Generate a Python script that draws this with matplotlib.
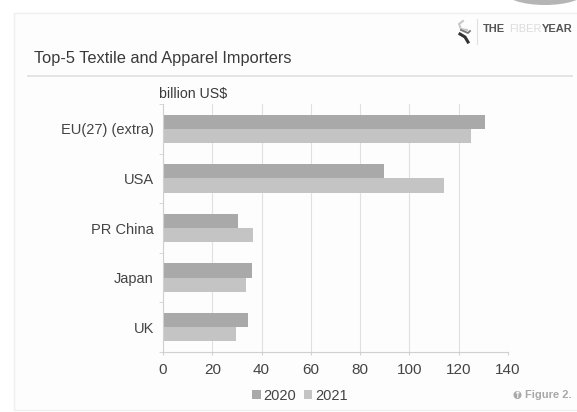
#!/usr/bin/env python3
"""Top-5 textile and apparel importers, grouped horizontal bars."""

import matplotlib
matplotlib.use("Agg")
import matplotlib.pyplot as plt
import numpy as np
from matplotlib.patches import Circle, Ellipse, Rectangle

W, H = 577, 412

countries = ["EU(27) (extra)", "USA", "PR China", "Japan", "UK"]
years = ["2020", "2021"]
values_2020 = [130.5, 89.5, 30.5, 36, 34.5]
values_2021 = [125, 114, 36.5, 33.5, 29.5]
x_ticks = [0, 20, 40, 60, 80, 100, 120, 140]

plt.rcParams["font.family"] = ["Liberation Sans", "DejaVu Sans"]

fig = plt.figure(figsize=(W / 100, H / 100), dpi=100, facecolor="white")


def fx(px):
    return px / W


def fy(py):
    return 1 - py / H


# card behind the chart
bg = fig.add_axes([0, 0, 1, 1], zorder=0)
bg.set_xlim(0, W)
bg.set_ylim(H, 0)
bg.axis("off")
bg.add_patch(Rectangle((14, 13), 570, 397, fc="#fdfdfd", ec="#efefef", lw=1))
bg.add_patch(Ellipse((545, -8), 80, 26, fc="#b5b5b5", ec="none"))
bg.plot([28, 572], [75.5, 75.5], color="#e2e2e2", lw=1.3)
bg.plot([477, 477], [19, 44], color="#e0e0e0", lw=0.8)

# rough logo mark
bg.plot([463, 459, 461, 467], [21, 24, 29, 30], color="#c8c8c8", lw=1.5)
bg.plot([460, 465, 468], [34, 37, 42], color="#333333", lw=2.2)
bg.plot([461, 468, 470], [30, 33, 31], color="#777777", lw=1.3)

ax = fig.add_axes([fx(163), fy(352), fx(508 - 163), (352 - 104) / H], zorder=1)
ax.patch.set_alpha(0)

y = np.arange(len(countries))
bar_h = 0.285
ax.barh(y - bar_h / 2, values_2020, bar_h, color="#a9a9a9", label=years[0], zorder=2)
ax.barh(y + bar_h / 2, values_2021, bar_h, color="#c4c4c4", label=years[1], zorder=2)

ax.set_xlim(0, 140)
ax.set_ylim(len(countries) - 0.5, -0.5)
ax.set_yticks(y, countries)
ax.set_yticks(np.arange(len(countries) + 1) - 0.5, minor=True)
ax.set_xticks(x_ticks)
ax.grid(axis="x", color="#e0e0e0", lw=0.8, zorder=0)
ax.set_axisbelow(True)
for side in ["top", "right"]:
    ax.spines[side].set_visible(False)
ax.spines["left"].set_color("#d0d0d0")
ax.spines["bottom"].set_color("#d0d0d0")
ax.tick_params(axis="y", which="major", length=0, pad=6.5, labelsize=10.5, labelcolor="#444444")
ax.tick_params(axis="y", which="minor", length=3, color="#d0d0d0")
ax.tick_params(axis="x", length=2, color="#d0d0d0", pad=6, labelsize=11, labelcolor="#444444")

fig.text(fx(34), fy(59), "Top-5 Textile and Apparel Importers", fontsize=11.8,
         color="#3a3a3a", va="center")
fig.text(fx(159), fy(94), "billion US$", fontsize=10.2, color="#3a3a3a", va="center")

handles, labels = ax.get_legend_handles_labels()
fig.legend(handles, labels, loc="center", bbox_to_anchor=(fx(300), fy(396)), ncol=2,
           frameon=False, fontsize=10.5, labelcolor="#444444", handlelength=0.6,
           handleheight=0.6, handletextpad=0.2, columnspacing=0.5)

# logo wordmark and figure tag
fig.text(fx(483), fy(29), "THE", fontsize=8, fontweight="bold", color="#555555", va="center")
fig.text(fx(509), fy(29), "FIBER", fontsize=8, color="#dddddd", va="center")
fig.text(fx(542), fy(29), "YEAR", fontsize=8, fontweight="bold", color="#555555", va="center")

bg.add_patch(Circle((517.5, 395), 4, fc="#a8a8a8", ec="none"))
fig.text(fx(517.5), fy(395), "↑", fontsize=6.5, fontweight="bold", color="white",
         ha="center", va="center", family=["DejaVu Sans"])
fig.text(fx(525), fy(394.5), "Figure 2.", fontsize=8, fontweight="bold", color="#a8a8a8",
         va="center")

fig.savefig("out.png", dpi=100, facecolor="white")
